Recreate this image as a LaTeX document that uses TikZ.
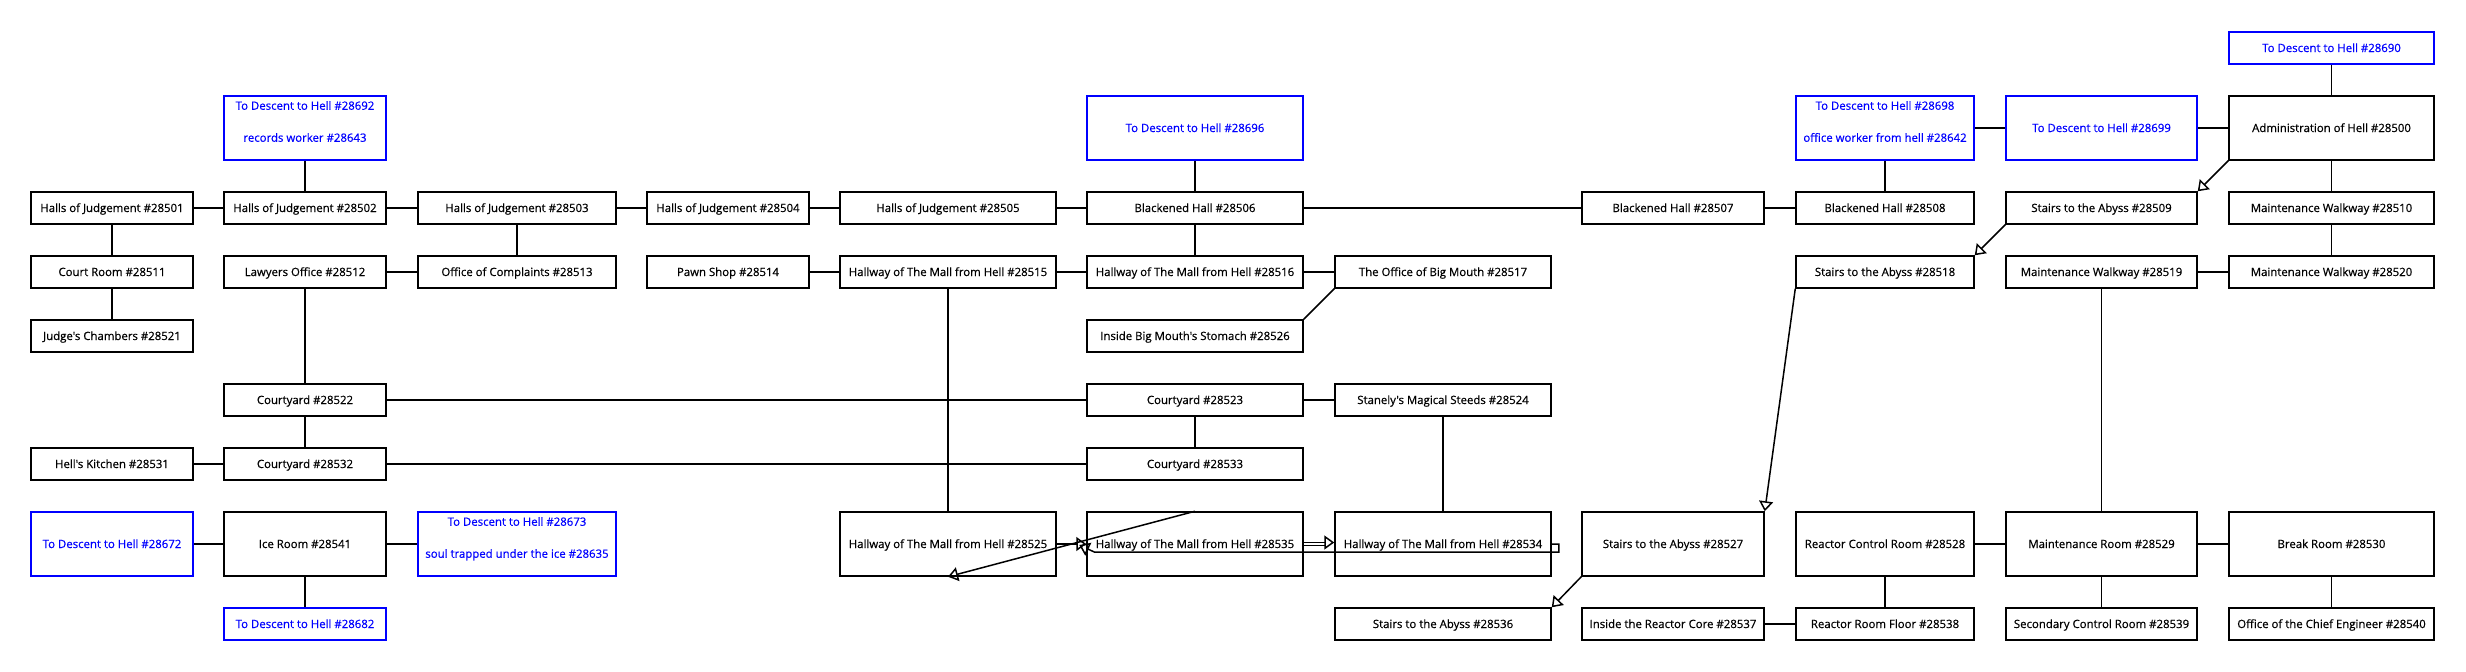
\documentclass[tikz,border=0pt]{standalone}
\usepackage{fontspec}
\newfontfamily\lblfont{Open Sans}[FakeBold=0.6]
\usetikzlibrary{arrows.meta,calc}
\begin{document}
\begin{tikzpicture}[x=1pt,y=-1pt,
  room/.style={draw=black, line width=1.5pt, minimum height=32pt, inner sep=0pt,
    font=\lblfont\fontsize{11.4}{13}\selectfont, text=black, text height=10pt, text depth=2pt},
  exitbox/.style={room, draw=blue, text=blue},
  tall/.style={minimum height=64pt},
  exittext/.style={font=\lblfont\fontsize{11.4}{13}\selectfont, text=blue, inner sep=0pt, anchor=base},
  wA/.style={minimum width=162pt}, wB/.style={minimum width=162pt},
  wC/.style={minimum width=198pt}, wD/.style={minimum width=162pt},
  wE/.style={minimum width=216pt}, wF/.style={minimum width=216pt},
  wG/.style={minimum width=216pt}, wH/.style={minimum width=182pt},
  wI/.style={minimum width=178pt}, wJ/.style={minimum width=191pt},
  wK/.style={minimum width=205pt},
  link/.style={line width=1.5pt, draw=black},
  arr/.style={link, -{Triangle[open, length=10pt, width=14pt]}}
]
\fill[white] (0,0) rectangle (2466,672);
\useasboundingbox (0,0) rectangle (2466,672);

% columns: A 112, B 305, C 517, D 728, E 948, F 1195, G 1443, H 1673, I 1885, J 2101.5, K 2331.5
% rows: A 48, B 128, C 208, D 272, E 336, F 400, G 464, H 544, I 624

% row A
\node[exitbox,wK] (n28690) at (2331.5,48) {To Descent to Hell \#28690};
% row B
\node[exitbox,wB,tall] (n28692) at (305,128) {};
\node[exittext] at ($(n28692.north)+(0,14.5)$) {To Descent to Hell \#28692};
\node[exittext] at ($(n28692.north)+(0,46.5)$) {records worker \#28643};
\node[exitbox,wF,tall] (n28696) at (1195,128) {To Descent to Hell \#28696};
\node[exitbox,wI,tall] (n28698) at (1885,128) {};
\node[exittext] at ($(n28698.north)+(0,14.5)$) {To Descent to Hell \#28698};
\node[exittext] at ($(n28698.north)+(0,46.5)$) {office worker from hell \#28642};
\node[exitbox,wJ,tall] (n28699) at (2101.5,128) {To Descent to Hell \#28699};
\node[room,wK,tall] (n28500) at (2331.5,128) {Administration of Hell \#28500};
% row C
\node[room,wA] (n28501) at (112,208) {Halls of Judgement \#28501};
\node[room,wB] (n28502) at (305,208) {Halls of Judgement \#28502};
\node[room,wC] (n28503) at (517,208) {Halls of Judgement \#28503};
\node[room,wD] (n28504) at (728,208) {Halls of Judgement \#28504};
\node[room,wE] (n28505) at (948,208) {Halls of Judgement \#28505};
\node[room,wF] (n28506) at (1195,208) {Blackened Hall \#28506};
\node[room,wH] (n28507) at (1673,208) {Blackened Hall \#28507};
\node[room,wI] (n28508) at (1885,208) {Blackened Hall \#28508};
\node[room,wJ] (n28509) at (2101.5,208) {Stairs to the Abyss \#28509};
\node[room,wK] (n28510) at (2331.5,208) {Maintenance Walkway \#28510};
% row D
\node[room,wA] (n28511) at (112,272) {Court Room \#28511};
\node[room,wB] (n28512) at (305,272) {Lawyers Office \#28512};
\node[room,wC] (n28513) at (517,272) {Office of Complaints \#28513};
\node[room,wD] (n28514) at (728,272) {Pawn Shop \#28514};
\node[room,wE] (n28515) at (948,272) {Hallway of The Mall from Hell \#28515};
\node[room,wF] (n28516) at (1195,272) {Hallway of The Mall from Hell \#28516};
\node[room,wG] (n28517) at (1443,272) {The Office of Big Mouth \#28517};
\node[room,wI] (n28518) at (1885,272) {Stairs to the Abyss \#28518};
\node[room,wJ] (n28519) at (2101.5,272) {Maintenance Walkway \#28519};
\node[room,wK] (n28520) at (2331.5,272) {Maintenance Walkway \#28520};
% row E
\node[room,wA] (n28521) at (112,336) {Judge's Chambers \#28521};
\node[room,wF] (n28526) at (1195,336) {Inside Big Mouth's Stomach \#28526};
% row F
\node[room,wB] (n28522) at (305,400) {Courtyard \#28522};
\node[room,wF] (n28523) at (1195,400) {Courtyard \#28523};
\node[room,wG] (n28524) at (1443,400) {Stanely's Magical Steeds \#28524};
% row G
\node[room,wA] (n28531) at (112,464) {Hell's Kitchen \#28531};
\node[room,wB] (n28532) at (305,464) {Courtyard \#28532};
\node[room,wF] (n28533) at (1195,464) {Courtyard \#28533};
% row H
\node[exitbox,wA,tall] (n28672) at (112,544) {To Descent to Hell \#28672};
\node[room,wB,tall] (n28541) at (305,544) {Ice Room \#28541};
\node[exitbox,wC,tall] (n28673) at (517,544) {};
\node[exittext] at ($(n28673.north)+(0,14.5)$) {To Descent to Hell \#28673};
\node[exittext] at ($(n28673.north)+(0,46.5)$) {soul trapped under the ice \#28635};
\node[room,wE,tall] (n28525) at (948,544) {Hallway of The Mall from Hell \#28525};
\node[room,wF,tall] (n28535) at (1195,544) {Hallway of The Mall from Hell \#28535};
\node[room,wG,tall] (n28534) at (1443,544) {Hallway of The Mall from Hell \#28534};
\node[room,wH,tall] (n28527) at (1673,544) {Stairs to the Abyss \#28527};
\node[room,wI,tall] (n28528) at (1885,544) {Reactor Control Room \#28528};
\node[room,wJ,tall] (n28529) at (2101.5,544) {Maintenance Room \#28529};
\node[room,wK,tall] (n28530) at (2331.5,544) {Break Room \#28530};
% row I
\node[exitbox,wB] (n28682) at (305,624) {To Descent to Hell \#28682};
\node[room,wG] (n28536) at (1443,624) {Stairs to the Abyss \#28536};
\node[room,wH] (n28537) at (1673,624) {Inside the Reactor Core \#28537};
\node[room,wI] (n28538) at (1885,624) {Reactor Room Floor \#28538};
\node[room,wJ] (n28539) at (2101.5,624) {Secondary Control Room \#28539};
\node[room,wK] (n28540) at (2331.5,624) {Office of the Chief Engineer \#28540};

% plain connectors
\draw[link] (n28692) -- (n28502);
\draw[link] (n28501) -- (n28502);
\draw[link] (n28502) -- (n28503);
\draw[link] (n28503) -- (n28504);
\draw[link] (n28504) -- (n28505);
\draw[link] (n28505) -- (n28506);
\draw[link] (n28696) -- (n28506);
\draw[link] (n28506) -- (n28507);
\draw[link] (n28507) -- (n28508);
\draw[link] (n28698) -- (n28508);
\draw[link] (n28698) -- (n28699);
\draw[link] (n28699) -- (n28500);
\draw[link] (n28690) -- (n28500);
\draw[link] (n28500) -- (n28510);
\draw[link] (n28510) -- (n28520);
\draw[link] (n28519) -- (n28520);
\draw[link] (n28501) -- (n28511);
\draw[link] (n28511) -- (n28521);
\draw[link] (n28503) -- (n28513);
\draw[link] (n28512) -- (n28513);
\draw[link] (n28512) -- (n28522);
\draw[link] (n28514) -- (n28515);
\draw[link] (n28515) -- (n28516);
\draw[link] (n28516) -- (n28517);
\draw[link] (n28506) -- (n28516);
\draw[link] (n28515) -- (n28525);
\draw[link] (n28522) -- (n28523);
\draw[link] (n28522) -- (n28532);
\draw[link] (n28531) -- (n28532);
\draw[link] (n28532) -- (n28533);
\draw[link] (n28523) -- (n28533);
\draw[link] (n28523) -- (n28524);
\draw[link] (n28524) -- (n28534);
\draw[link] (n28672) -- (n28541);
\draw[link] (n28541) -- (n28673);
\draw[link] (n28541) -- (n28682);
\draw[link] (n28537) -- (n28538);
\draw[link] (n28528) -- (n28538);
\draw[link] (n28528) -- (n28529);
\draw[link] (n28529) -- (n28530);
\draw[link] (n28519) -- (n28529);
\draw[link] (n28529) -- (n28539);
\draw[link] (n28530) -- (n28540);
\draw[link] (n28517.south west) -- (n28526.north east);

% directed connectors
\draw[arr] (n28500.south west) -- (n28509.north east);
\draw[arr] (n28509.south west) -- (n28518.north east);
\draw[arr] (n28518.south west) -- (n28527.north east);
\draw[arr] (n28527.south west) -- (n28536.north east);
\draw[arr] (n28525.east) -- (n28535.west);
\draw[arr] (n28535.north) -- (n28525.south);
\draw[arr] ([yshift=1.5pt]n28535.east) -- ([yshift=1.5pt]n28534.west);
\draw[link] ([yshift=-1.5pt]n28535.east) -- ([xshift=-8pt,yshift=-1.5pt]n28534.west);
\draw[arr] (n28534.east) -- ++(7,0) -- ++(0,8) -- ($(n28535.west)+(8,8)$) -- ($(n28535.west)+(-7,1)$);
\end{tikzpicture}
\end{document}
